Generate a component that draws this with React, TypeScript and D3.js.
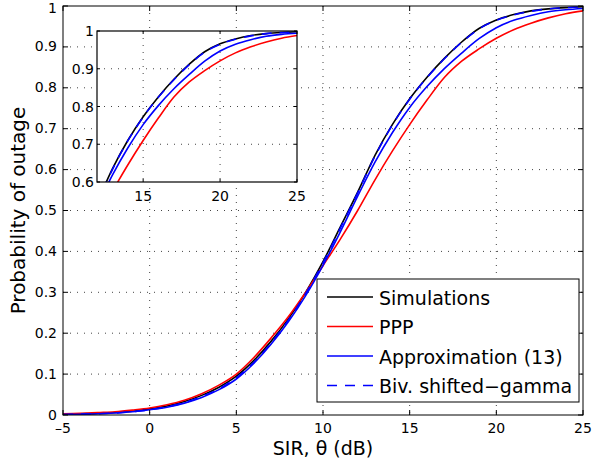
import React from "react";
import * as d3 from "d3";

const sirDb = [-5, -4, -3, -2, -1, 0, 1, 2, 3, 4, 5, 6, 7, 8, 9, 10, 11, 12, 13, 14, 15, 16, 17, 18, 19, 20, 21, 22, 23, 24, 25];
const simulations = [0.002, 0.003, 0.004, 0.006, 0.009, 0.015, 0.022, 0.033, 0.048, 0.068, 0.095, 0.133, 0.18, 0.235, 0.3, 0.375, 0.46, 0.545, 0.635, 0.71, 0.773, 0.826, 0.872, 0.912, 0.945, 0.966, 0.979, 0.988, 0.993, 0.996, 0.998];
const ppp = [0.003, 0.004, 0.006, 0.008, 0.012, 0.017, 0.025, 0.036, 0.052, 0.073, 0.1, 0.14, 0.188, 0.24, 0.3, 0.365, 0.43, 0.5, 0.575, 0.645, 0.71, 0.77, 0.825, 0.865, 0.895, 0.921, 0.942, 0.958, 0.971, 0.981, 0.988];
const approx13 = [0.001, 0.002, 0.003, 0.005, 0.008, 0.013, 0.019, 0.029, 0.043, 0.062, 0.088, 0.126, 0.173, 0.228, 0.292, 0.366, 0.448, 0.535, 0.618, 0.69, 0.752, 0.803, 0.847, 0.885, 0.92, 0.947, 0.965, 0.977, 0.986, 0.991, 0.994];
const bivGamma = [0.001, 0.002, 0.003, 0.005, 0.008, 0.013, 0.02, 0.03, 0.045, 0.064, 0.091, 0.128, 0.176, 0.232, 0.297, 0.372, 0.457, 0.543, 0.633, 0.709, 0.772, 0.825, 0.871, 0.911, 0.944, 0.965, 0.978, 0.987, 0.993, 0.996, 0.998];

const seriesNames = ["Simulations", "PPP", "Approximation (13)", "Biv. shifted\u2212gamma"];
const seriesColors = ["#000000", "#ff0000", "#0000ff", "#0000ff"];
const seriesDash = [null, null, null, "10,8"];
const seriesValues = [simulations, ppp, approx13, bivGamma];

const xTicks = [-5, 0, 5, 10, 15, 20, 25];
const xTickLabels = ["\u20135", "0", "5", "10", "15", "20", "25"];
const yTicks = [0, 0.1, 0.2, 0.3, 0.4, 0.5, 0.6, 0.7, 0.8, 0.9, 1];
const yTickLabels = ["0", "0.1", "0.2", "0.3", "0.4", "0.5", "0.6", "0.7", "0.8", "0.9", "1"];
const insetXTicks = [15, 20, 25];
const insetYTicks = [0.6, 0.7, 0.8, 0.9, 1];
const insetYTickLabels = ["0.6", "0.7", "0.8", "0.9", "1"];

const FONT = "DejaVu Sans";

export default function App() {
  const W = 592, H = 467;
  const m = { l: 63, r: 583, t: 6, b: 415 };
  const x = d3.scaleLinear().domain([-5, 25]).range([m.l, m.r]);
  const y = d3.scaleLinear().domain([0, 1]).range([m.b, m.t]);

  const ins = { l: 97, r: 297, t: 31, b: 182 };
  const xi = d3.scaleLinear().domain([12, 25]).range([ins.l, ins.r]);
  const yi = d3.scaleLinear().domain([0.6, 1]).range([ins.b, ins.t]);

  const mkLine = (xs: any, ys: any) =>
    d3.line<number>().x((_, i) => xs(sirDb[i])).y((d) => ys(d)).curve(d3.curveMonotoneX);

  const mainLine = mkLine(x, y);
  const insetLine = mkLine(xi, yi);

  const tick = 5;
  const itick = 3;
  const gridStyle = { stroke: "#444", strokeWidth: 1, strokeDasharray: "1,6" };

  const leg = { l: 317, r: 579, t: 279, b: 402 };
  const legRows = [297, 326.5, 356, 385.5];

  return (
    <svg width={W} height={H} style={{ position: "absolute", left: 0, top: 0, background: "#fff" }} fontFamily={FONT}>
      <defs>
        <clipPath id="mainClip">
          <rect x={m.l} y={m.t} width={m.r - m.l} height={m.b - m.t} />
        </clipPath>
        <clipPath id="insetClip">
          <rect x={ins.l} y={ins.t} width={ins.r - ins.l} height={ins.b - ins.t} />
        </clipPath>
      </defs>
      <rect x={0} y={0} width={W} height={H} fill="#fff" />
      {/* main grid */}
      {xTicks.slice(1, -1).map((t) => (
        <line key={"gx" + t} x1={x(t)} x2={x(t)} y1={m.t} y2={m.b} {...gridStyle} />
      ))}
      {yTicks.slice(1, -1).map((t) => (
        <line key={"gy" + t} x1={m.l} x2={m.r} y1={y(t)} y2={y(t)} {...gridStyle} />
      ))}
      {/* main curves */}
      <g clipPath="url(#mainClip)">
        {seriesValues.map((vals, i) => (
          <path key={"s" + i} d={mainLine(vals) || ""} fill="none" stroke={seriesColors[i]} strokeWidth={1.6}
            strokeDasharray={seriesDash[i] || undefined} />
        ))}
      </g>
      {/* main box + ticks */}
      <rect x={m.l} y={m.t} width={m.r - m.l} height={m.b - m.t} fill="none" stroke="#000" strokeWidth={1} />
      {xTicks.map((t) => (
        <g key={"xt" + t}>
          <line x1={x(t)} x2={x(t)} y1={m.b} y2={m.b - tick} stroke="#000" />
          <line x1={x(t)} x2={x(t)} y1={m.t} y2={m.t + tick} stroke="#000" />
        </g>
      ))}
      {yTicks.map((t) => (
        <g key={"yt" + t}>
          <line x1={m.l} x2={m.l + tick} y1={y(t)} y2={y(t)} stroke="#000" />
          <line x1={m.r} x2={m.r - tick} y1={y(t)} y2={y(t)} stroke="#000" />
        </g>
      ))}
      {xTicks.map((t, i) => (
        <text key={"xl" + t} x={x(t)} y={433} fontSize={14} textAnchor="middle" fill="#000">{xTickLabels[i]}</text>
      ))}
      {yTicks.map((t, i) => (
        <text key={"yl" + t} x={57} y={Math.max(y(t) + 4.5, 13)} fontSize={14} textAnchor="end" fill="#000">{yTickLabels[i]}</text>
      ))}
      <text x={323} y={455} fontSize={19} textAnchor="middle" fill="#000">SIR, θ (dB)</text>
      <text transform={`translate(25,${(m.t + m.b) / 2}) rotate(-90)`} fontSize={20} textAnchor="middle" fill="#000">
        Probability of outage
      </text>

      {/* inset */}
      <rect x={ins.l} y={ins.t} width={ins.r - ins.l} height={ins.b - ins.t} fill="#fff" />
      {insetXTicks.slice(0, -1).map((t) => (
        <line key={"igx" + t} x1={xi(t)} x2={xi(t)} y1={ins.t} y2={ins.b} {...gridStyle} />
      ))}
      {insetYTicks.slice(1, -1).map((t) => (
        <line key={"igy" + t} x1={ins.l} x2={ins.r} y1={yi(t)} y2={yi(t)} {...gridStyle} />
      ))}
      <g clipPath="url(#insetClip)">
        {seriesValues.map((vals, i) => (
          <path key={"is" + i} d={insetLine(vals) || ""} fill="none" stroke={seriesColors[i]} strokeWidth={1.6}
            strokeDasharray={seriesDash[i] || undefined} />
        ))}
      </g>
      <rect x={ins.l} y={ins.t} width={ins.r - ins.l} height={ins.b - ins.t} fill="none" stroke="#000" strokeWidth={1.2} />
      {insetXTicks.map((t) => (
        <g key={"ixt" + t}>
          <line x1={xi(t)} x2={xi(t)} y1={ins.b} y2={ins.b - itick} stroke="#000" />
          <line x1={xi(t)} x2={xi(t)} y1={ins.t} y2={ins.t + itick} stroke="#000" />
          <text x={xi(t)} y={201} fontSize={14} textAnchor="middle" fill="#000">{t}</text>
        </g>
      ))}
      {insetYTicks.map((t, i) => (
        <g key={"iyt" + t}>
          <line x1={ins.l} x2={ins.l + itick} y1={yi(t)} y2={yi(t)} stroke="#000" />
          <line x1={ins.r} x2={ins.r - itick} y1={yi(t)} y2={yi(t)} stroke="#000" />
          <text x={94} y={yi(t) + 5} fontSize={14} textAnchor="end" fill="#000">{insetYTickLabels[i]}</text>
        </g>
      ))}

      {/* legend */}
      <rect x={leg.l} y={leg.t} width={leg.r - leg.l} height={leg.b - leg.t} fill="#fff" stroke="#000" strokeWidth={1} />
      {seriesNames.map((name, i) => (
        <g key={"lg" + i}>
          <line x1={327} x2={373} y1={legRows[i]} y2={legRows[i]} stroke={seriesColors[i]} strokeWidth={1.6}
            strokeDasharray={seriesDash[i] || undefined} />
          <text x={379} y={legRows[i] + 7.5} fontSize={19} fill="#000">{name}</text>
        </g>
      ))}
    </svg>
  );
}
